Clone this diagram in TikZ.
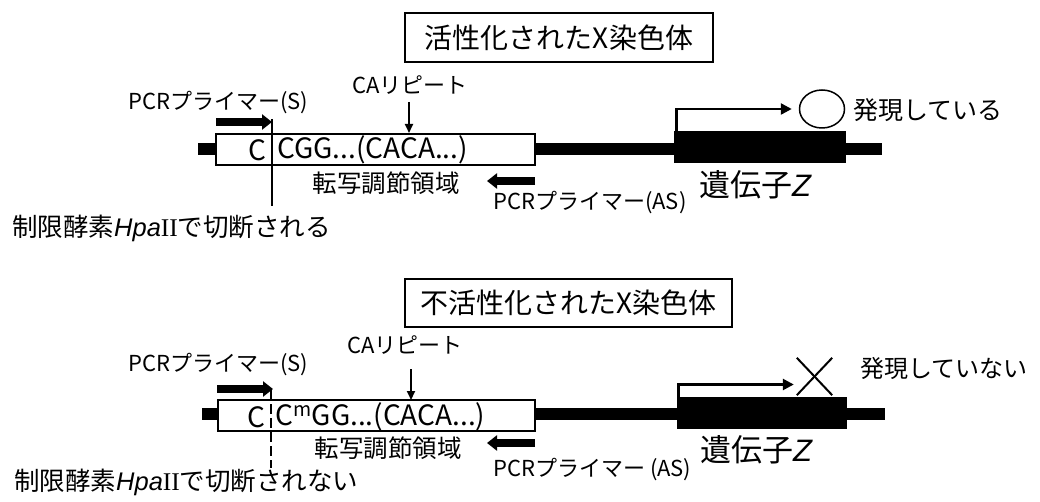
\documentclass[tikz,border=0pt]{standalone}
\usepackage{fontspec}
\setmainfont{Noto Sans CJK JP}
\newfontfamily\latit{Liberation Sans}
\newfontfamily\latser{Liberation Serif}
\usetikzlibrary{arrows.meta,shapes.geometric}
\newcommand{\fsz}[1]{\fontsize{#1}{#1}\selectfont}
\begin{document}
\begin{tikzpicture}[x=1pt,y=-1pt,
  lbl/.style={inner sep=0pt},
  titlebox/.style={draw,line width=1.6pt,inner sep=0pt,font=\fsz{28}},
  dna/.style={line width=12.5pt,line cap=butt},
  promo/.style={draw,fill=white,line width=2pt,inner sep=0pt},
  gene/.style={draw,fill=black,line width=1pt,inner sep=0pt},
  primer/.style={line width=7.5pt,-{Triangle[length=10pt,width=15pt]}},
  tx/.style={line width=2.5pt,-{Triangle[length=11pt,width=11pt]}},
  caarrow/.style={line width=2pt,-{Triangle[length=9pt,width=8pt]}},
  cutline/.style={line width=2.5pt},
  cutdash/.style={line width=2.5pt,dash pattern=on 10pt off 4pt},
]
\useasboundingbox (0,0) rectangle (1040,502);

% ================= top panel =================
\node[titlebox,minimum width=308pt,minimum height=49pt] (t1) at (559,37.5) {活性化されたX染色体};

\coordinate (l1a) at (198,149);
\coordinate (l1b) at (882,149);
\draw[dna] (l1a) -- (l1b);
\node[promo,minimum width=319pt,minimum height=31pt] (p1) at (375.5,149.5) {};
\node[gene,minimum width=171pt,minimum height=31pt] (g1) at (759.5,147.5) {};

\node[lbl,font=\fsz{28},anchor=east] (c1a) at (267,150) {C};
\node[lbl,font=\fsz{28},anchor=west] (c1b) at (277,150) {CGG...(CACA...)};

\node[lbl,font=\fsz{22}] (ca1) at (410,85) {CAリピート};
\coordinate (ca1t) at (409,102);
\coordinate (ca1b) at (409,133);
\draw[caarrow] (ca1t) -- (ca1b);

\node[lbl,font=\fsz{22},anchor=west] (ps1) at (128,103) {PCRプライマー(S)};
\coordinate (ps1a) at (216,122);
\coordinate (ps1b) at (272,122);
\draw[primer] (ps1a) -- (ps1b);

\node[lbl,font=\fsz{24.5}] (tr1) at (386,183) {転写調節領域};

\coordinate (pa1a) at (535,181);
\coordinate (pa1b) at (487,181);
\draw[primer] (pa1a) -- (pa1b);
\node[lbl,font=\fsz{22},anchor=west] (pas1) at (493,203) {PCRプライマー(AS)};

\coordinate (cut1t) at (272,119);
\coordinate (cut1b) at (272,206);
\draw[cutline] (cut1t) -- (cut1b);
\node[lbl,font=\fsz{25.5},anchor=west] (hp1) at (12,228) {制限酵素{\latit\itshape Hpa}{\latser II}で切断される};

\node[lbl,font=\fsz{31}] (gz1) at (755,185) {遺伝子{\latit\itshape Z}};

\node[ellipse,draw,line width=1.5pt,minimum width=45pt,minimum height=38pt,inner sep=0pt] (o1) at (822,109) {};
\draw[tx] ([xshift=3pt]g1.north west) |- ([xshift=-7pt]o1.west);
\node[lbl,font=\fsz{25},anchor=west] (ex1) at (853,110) {発現している};

% ================= bottom panel =================
\node[titlebox,minimum width=327pt,minimum height=48pt] (t2) at (568.5,303) {不活性化されたX染色体};

\coordinate (l2a) at (202,414);
\coordinate (l2b) at (885,414);
\draw[dna] (l2a) -- (l2b);
\node[promo,minimum width=317pt,minimum height=31pt] (p2) at (376.5,415.5) {};
\node[gene,minimum width=169pt,minimum height=31pt] (g2) at (761.5,412.5) {};

\node[lbl,font=\fsz{28},anchor=east] (c2a) at (266,417) {C};
\node[lbl,font=\fsz{28},anchor=west] (c2b) at (275,417) {C\textsuperscript{m}GG...(CACA...)};

\node[lbl,font=\fsz{22}] (ca2) at (405,345) {CAリピート};
\coordinate (ca2t) at (411,369);
\coordinate (ca2b) at (411,400);
\draw[caarrow] (ca2t) -- (ca2b);

\node[lbl,font=\fsz{22},anchor=west] (ps2) at (128,365) {PCRプライマー(S)};
\coordinate (ps2a) at (217,389);
\coordinate (ps2b) at (273,389);
\draw[primer] (ps2a) -- (ps2b);

\node[lbl,font=\fsz{24.5}] (tr2) at (388,448) {転写調節領域};

\coordinate (pa2a) at (535,443);
\coordinate (pa2b) at (487,443);
\draw[primer] (pa2a) -- (pa2b);
\node[lbl,font=\fsz{22},anchor=west] (pas2) at (493,470) {PCRプライマー (AS)};

\coordinate (cut2t) at (271,390);
\coordinate (cut2b) at (271,468);
\draw[cutdash] (cut2t) -- (cut2b);
\node[lbl,font=\fsz{25.5},anchor=west] (hp2) at (14,482) {制限酵素{\latit\itshape Hpa}{\latser II}で切断されない};

\node[lbl,font=\fsz{31}] (gz2) at (756,450) {遺伝子{\latit\itshape Z}};

\node[lbl,minimum width=35pt,minimum height=37pt] (x2) at (814.5,376.5) {};
\draw[line width=2pt] (x2.north west) -- (x2.south east);
\draw[line width=2pt] (x2.south west) -- (x2.north east);
\draw[tx] ([xshift=2pt]g2.north west) |- ([xshift=-3pt,yshift=-8pt]x2.west);
\node[lbl,font=\fsz{24},anchor=west] (ex2) at (860,368) {発現していない};
\end{tikzpicture}
\end{document}
